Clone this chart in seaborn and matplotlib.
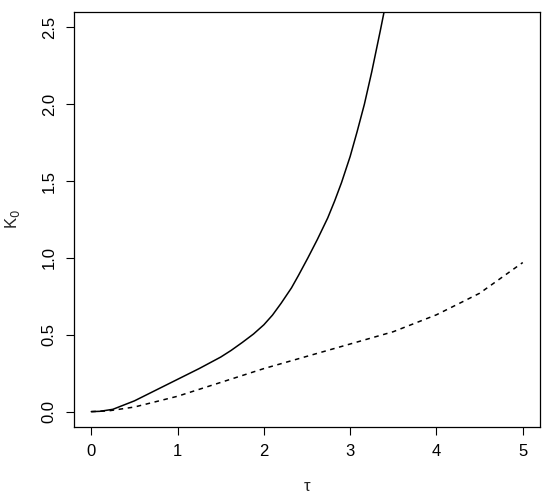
import numpy as np
import pandas as pd
import matplotlib
matplotlib.use("Agg")
import matplotlib.pyplot as plt
import seaborn as sns

# solid curve
tau_solid = [0.0, 0.1, 0.25, 0.5, 0.75, 1.0, 1.25, 1.5, 1.62, 1.75, 1.88, 2.0, 2.1,
             2.2, 2.32, 2.4, 2.51, 2.62, 2.74, 2.82, 2.9, 3.0, 3.08, 3.165, 3.25,
             3.35, 3.4, 3.45]
k_solid = [0.0, 0.002, 0.015, 0.07, 0.14, 0.21, 0.28, 0.355, 0.398, 0.45, 0.505,
           0.565, 0.628, 0.705, 0.805, 0.885, 1.0, 1.12, 1.26, 1.37, 1.49, 1.66,
           1.82, 2.0, 2.21, 2.48, 2.62, 2.76]

# dashed curve
tau_dash = [0.0, 0.2, 0.5, 1.0, 1.5, 2.0, 2.5, 3.0, 3.5, 4.0, 4.5, 5.0]
k_dash = [0.0, 0.005, 0.03, 0.10, 0.19, 0.28, 0.36, 0.44, 0.52, 0.63, 0.77, 0.97]

x_ticks = [0, 1, 2, 3, 4, 5]
y_ticks = [0.0, 0.5, 1.0, 1.5, 2.0, 2.5]

sns.set_style("ticks")
plt.rcParams['font.family'] = ['Liberation Sans', 'DejaVu Sans']

fig = plt.figure(figsize=(5.5, 4.96), dpi=100)
ax = fig.add_axes([74/550, 69/496, 466/550, 415/496])

df1 = pd.DataFrame({"tau": tau_solid, "K": k_solid})
df2 = pd.DataFrame({"tau": tau_dash, "K": k_dash})
sns.lineplot(data=df1, x="tau", y="K", ax=ax, color="black", lw=1.1)
sns.lineplot(data=df2, x="tau", y="K", ax=ax, color="black", lw=1.1,
             linestyle=(0, (3, 3)))

ax.set_xlim(-0.2, 5.2)
ax.set_ylim(-0.1, 2.6)
ax.set_xticks(x_ticks)
ax.set_xticklabels([str(t) for t in x_ticks])
ax.set_yticks(y_ticks)
ax.set_yticklabels([f"{t:.1f}" for t in y_ticks], rotation=90, va="center")
ax.tick_params(axis="both", length=5.5, width=0.8, labelsize=12, pad=7,
               colors="black")
for s in ax.spines.values():
    s.set_visible(True)
    s.set_linewidth(0.9)
    s.set_color("black")
ax.set_xlabel("τ", fontsize=12, labelpad=14)
ax.set_ylabel("K$_0$", fontsize=12, labelpad=14)

fig.savefig("out.png", dpi=100)
